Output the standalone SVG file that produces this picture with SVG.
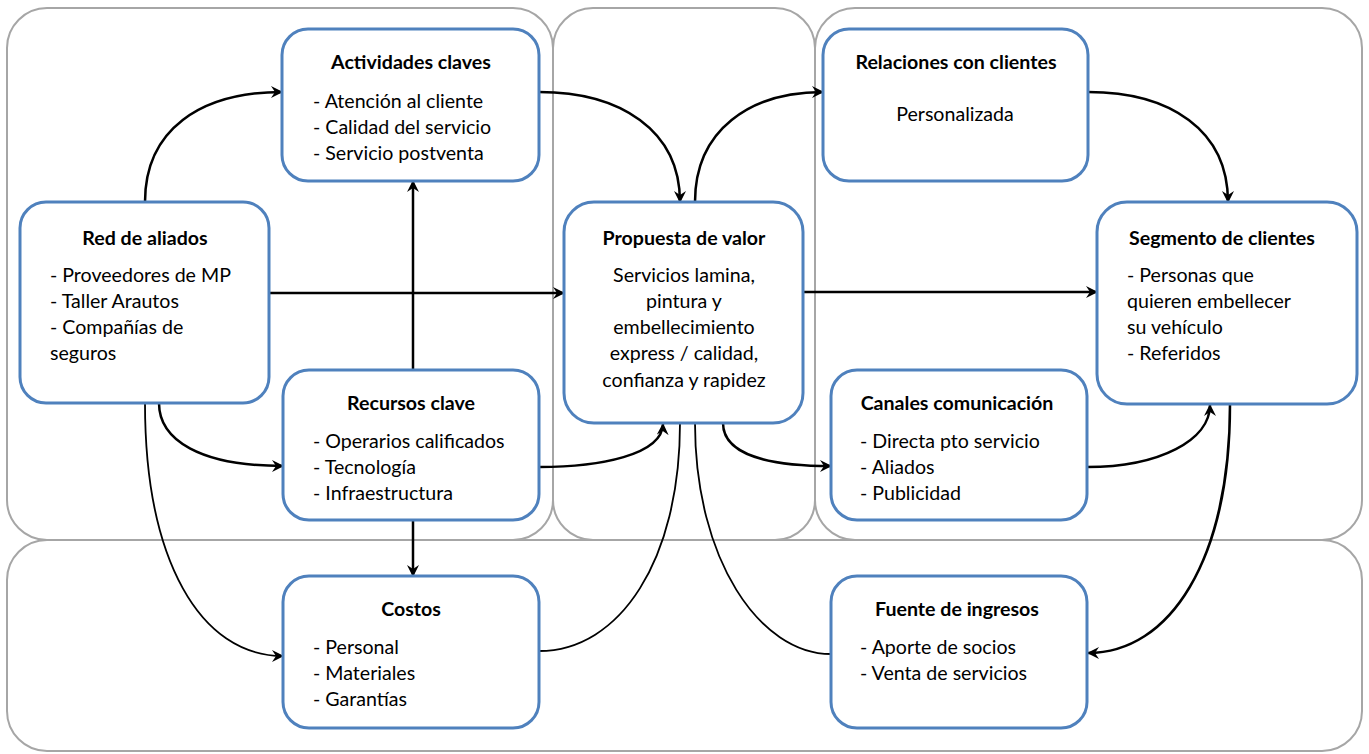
<svg xmlns="http://www.w3.org/2000/svg" width="1369" height="754" viewBox="0 0 1369 754">
<style>
.panel{fill:none;stroke:#A6A6A6;stroke-width:2}
.node{fill:#fff;stroke:#4F81BD;stroke-width:3}
text{font-family:Lato,"Open Sans","Liberation Sans",sans-serif;font-size:19.6px;fill:#000}
.t{font-weight:bold;text-anchor:middle}
.c{text-anchor:middle}
.e{fill:none;stroke:#000;stroke-width:2.5}
.thin{stroke-width:1.8}
</style>
<defs>
<marker id="ah" viewBox="0 0 12 12" refX="11" refY="6" markerWidth="12" markerHeight="12" markerUnits="userSpaceOnUse" orient="auto">
<path d="M0,0 L12,6 L0,12 L4,6 z" fill="#000"/>
</marker>
</defs>
<g id="panels">
<rect class="panel" x="7" y="8" width="546" height="532" rx="40"/>
<rect class="panel" x="553" y="8" width="262" height="532" rx="40"/>
<rect class="panel" x="815" y="8" width="547" height="532" rx="40"/>
<rect class="panel" x="7" y="540" width="1355" height="211" rx="40"/>
</g>
<g id="connectors">
<path class="e" marker-end="url(#ah)" d="M145,202 C145,130 200,92 282,92"/>
<path class="e" marker-end="url(#ah)" d="M539,92 C620,92 680,130 680,202"/>
<path class="e" marker-end="url(#ah)" d="M695,202 C695,130 750,92 823,92"/>
<path class="e" marker-end="url(#ah)" d="M1088,92 C1170,92 1228,130 1228,202"/>
<path class="e" marker-end="url(#ah)" d="M269,293 L564,293"/>
<path class="e" marker-end="url(#ah)" d="M803,292 L1097,292"/>
<path class="e" marker-end="url(#ah)" d="M413,370 L413,181"/>
<path class="e" marker-end="url(#ah)" d="M413,520 L413,576"/>
<path class="e" marker-end="url(#ah)" d="M159,403 C159,440 200,466 283,466"/>
<path class="e thin" marker-end="url(#ah)" d="M145,403 C145,560 200,656 283,656"/>
<path class="e" marker-end="url(#ah)" d="M539,467 C600,467 662,455 663,424"/>
<path class="e thin" d="M539,651 C620,651 680,560 680,423"/>
<path class="e thin" d="M695,423 C695,560 760,654 831,654"/>
<path class="e" marker-end="url(#ah)" d="M723,423 C723,455 770,466 831,466"/>
<path class="e" marker-end="url(#ah)" d="M1087,467 C1160,467 1210,440 1210,405"/>
<path class="e" marker-end="url(#ah)" d="M1230,404 C1230,560 1170,653 1088,653"/>
</g>
<g id="actividades">
<rect class="node" x="282" y="29" width="257" height="152" rx="26"/>
<text class="t" x="411" y="69">Actividades claves</text>
<text x="313" y="108">- Atención al cliente</text>
<text x="313" y="134">- Calidad del servicio</text>
<text x="313" y="160">- Servicio postventa</text>
</g>
<g id="red">
<rect class="node" x="20" y="202" width="249" height="201" rx="26"/>
<text class="t" x="145" y="245">Red de aliados</text>
<text x="50" y="282">- Proveedores de MP</text>
<text x="50" y="308">- Taller Arautos</text>
<text x="50" y="334">- Compañías de</text>
<text x="50" y="360">seguros</text>
</g>
<g id="recursos">
<rect class="node" x="283" y="370" width="256" height="150" rx="26"/>
<text class="t" x="411" y="410">Recursos clave</text>
<text x="313" y="448">- Operarios calificados</text>
<text x="313" y="474">- Tecnología</text>
<text x="313" y="500">- Infraestructura</text>
</g>
<g id="costos">
<rect class="node" x="283" y="576" width="256" height="152" rx="26"/>
<text class="t" x="411" y="616">Costos</text>
<text x="313" y="654">- Personal</text>
<text x="313" y="680">- Materiales</text>
<text x="313" y="706">- Garantías</text>
</g>
<g id="propuesta">
<rect class="node" x="564" y="202" width="239" height="221" rx="30"/>
<text class="t" x="684" y="245">Propuesta de valor</text>
<text class="c" x="684" y="282">Servicios lamina,</text>
<text class="c" x="684" y="308">pintura y</text>
<text class="c" x="684" y="334">embellecimiento</text>
<text class="c" x="684" y="360">express / calidad,</text>
<text class="c" x="684" y="387">confianza y rapidez</text>
</g>
<g id="relaciones">
<rect class="node" x="823" y="29" width="265" height="152" rx="26"/>
<text class="t" x="956" y="69">Relaciones con clientes</text>
<text class="c" x="955" y="121">Personalizada</text>
</g>
<g id="segmento">
<rect class="node" x="1097" y="202" width="260" height="202" rx="30"/>
<text class="t" x="1222" y="245">Segmento de clientes</text>
<text x="1127" y="282">- Personas que</text>
<text x="1127" y="308">quieren embellecer</text>
<text x="1127" y="334">su vehículo</text>
<text x="1127" y="360">- Referidos</text>
</g>
<g id="canales">
<rect class="node" x="831" y="370" width="256" height="150" rx="26"/>
<text class="t" x="957" y="410">Canales comunicación</text>
<text x="860" y="448">- Directa pto servicio</text>
<text x="860" y="474">- Aliados</text>
<text x="860" y="500">- Publicidad</text>
</g>
<g id="fuente">
<rect class="node" x="831" y="576" width="256" height="152" rx="26"/>
<text class="t" x="957" y="616">Fuente de ingresos</text>
<text x="860" y="654">- Aporte de socios</text>
<text x="860" y="680">- Venta de servicios</text>
</g>
</svg>
